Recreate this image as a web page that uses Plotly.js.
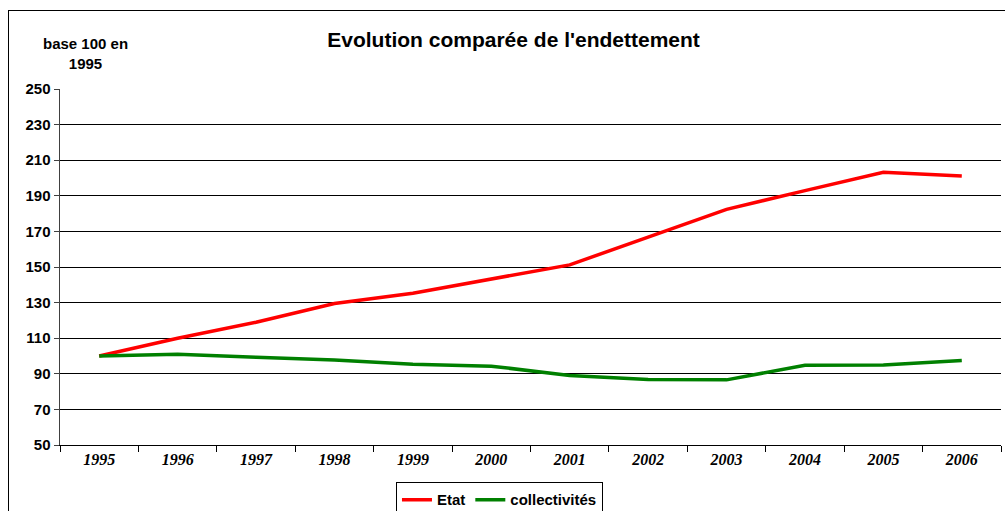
<!DOCTYPE html>
<html>
<head>
<meta charset="utf-8">
<script src="https://cdn.plot.ly/plotly-3.0.1.min.js"></script>
<style>
  html, body { margin: 0; padding: 0; background: #fff; overflow: hidden; }
  #wrap { position: relative; width: 1005px; height: 511px; }
  #chart { position: absolute; left: 0; top: 0; width: 1005px; height: 511px; }
  #frame { position: absolute; left: 8px; top: 10px; width: 1100px; height: 600px;
           border: 1px solid #000; pointer-events: none; }
</style>
</head>
<body>
<div id="wrap">
  <div id="chart"></div>
  <div id="frame"></div>
</div>
<script>
const years = ['1995','1996','1997','1998','1999','2000','2001','2002','2003','2004','2005','2006'];
const etat = [100, 110, 119, 129.5, 135.3, 143.2, 151.2, 166.8, 182.4, 192.9, 203.2, 201.1];
const collectivites = [100, 101, 99.3, 97.8, 95.4, 94.3, 89.1, 86.8, 86.6, 94.8, 95, 97.5];
const seriesNames = ['Etat', 'collectivités'];
const yTicks = [50, 70, 90, 110, 130, 150, 170, 190, 210, 230, 250];

const traces = [
  { x: years, y: etat, name: seriesNames[0], type: 'scatter', mode: 'lines',
    line: { color: '#ff0000', width: 3.5 } },
  { x: years, y: collectivites, name: seriesNames[1], type: 'scatter', mode: 'lines',
    line: { color: '#008000', width: 3.5 } }
];

const sans = 'Arial, Liberation Sans, sans-serif';

const layout = {
  width: 1005, height: 511,
  margin: { l: 60, r: 4, t: 89, b: 66, pad: 0, autoexpand: false },
  paper_bgcolor: 'rgba(0,0,0,0)',
  plot_bgcolor: '#fff',
  showlegend: true,
  title: {
    text: "Evolution comparée de l'endettement",
    font: { family: sans, size: 21, color: '#000', weight: 'bold' },
    x: 0.511, xanchor: 'center', xref: 'container',
    y: 0.922, yanchor: 'middle', yref: 'container'
  },
  xaxis: {
    type: 'category',
    range: [-0.5, 11.5],
    showgrid: false,
    showline: true, linecolor: '#000', linewidth: 1,
    ticks: 'outside', tickson: 'boundaries', ticklen: 6, tickcolor: '#000', tickwidth: 1,
    tickfont: { family: 'Liberation Serif, Times New Roman, serif', size: 16, color: '#000', weight: 'bold', style: 'italic' },
    zeroline: false, fixedrange: true, automargin: false
  },
  yaxis: {
    range: [50, 250],
    tickvals: yTicks,
    ticktext: yTicks.map(String),
    showgrid: true, gridcolor: '#000', gridwidth: 1,
    showline: true, linecolor: '#404040', linewidth: 1.5,
    ticks: 'outside', ticklen: 5, tickcolor: '#404040', tickwidth: 1,
    tickfont: { family: sans, size: 15, color: '#000', weight: 'bold' },
    zeroline: false, fixedrange: true, automargin: false
  },
  legend: {
    orientation: 'h',
    xref: 'container', yref: 'container',
    x: 0.394, xanchor: 'left',
    y: 0.056, yanchor: 'top',
    bordercolor: '#000', borderwidth: 1, bgcolor: '#fff',
    font: { family: sans, size: 15, color: '#000', weight: 'bold' },
    itemwidth: 30, tracegroupgap: 0
  },
  annotations: [{
    text: 'base 100 en<br>1995',
    xref: 'paper', yref: 'paper',
    x: 0.0266, y: 1.10, xanchor: 'center', yanchor: 'middle',
    showarrow: false, align: 'center',
    font: { family: sans, size: 15, color: '#000', weight: 'bold' }
  }]
};

Plotly.newPlot('chart', traces, layout, { displayModeBar: false, staticPlot: true });
</script>
</body>
</html>
